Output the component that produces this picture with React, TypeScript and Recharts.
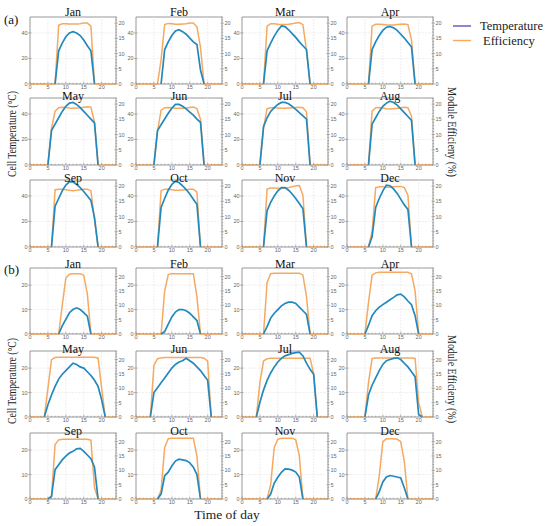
import React from "react";
import { LineChart, Line, XAxis, YAxis, ReferenceLine, ReferenceArea } from "recharts";

const n = null;

const hours = [0, 1, 2, 3, 4, 5, 6, 7, 8, 9, 10, 11, 12, 13, 14, 15, 16, 17, 18, 19, 20, 21, 22, 23, 24];
const months = ["Jan", "Feb", "Mar", "Apr", "May", "Jun", "Jul", "Aug", "Sep", "Oct", "Nov", "Dec"];

// (a) cell temperature, hourly 0..24
const tempA = [
  [n, n, n, n, n, n, n, 0, 26, 32, 37, 40, 41, 40, 38, 34.5, 30, 26, 0, n, n, n, n, n, n],
  [n, n, n, n, n, n, n, 0, 27, 33, 38, 41.5, 42.5, 41, 39, 36, 33, 31, 11, 0, n, n, n, n, n],
  [n, n, n, n, n, n, 0, 26, 32, 37.5, 42, 45.5, 45, 42.5, 39.5, 36.5, 33, 30, 27, 0, n, n, n, n, n],
  [n, n, n, n, n, n, 0, 27, 33, 38, 42, 44.5, 45, 44, 42, 39, 36, 32.5, 29, 0, n, n, n, n, n],
  [n, n, n, n, n, 0, 27, 32, 37, 42, 46, 48.5, 49, 47.5, 45, 42, 39, 36, 33, 0, n, n, n, n, n],
  [n, n, n, n, n, 0, 27, 31.5, 36, 40.5, 44.5, 47.5, 47.5, 46, 44, 41.5, 39, 36, 33.5, 0, n, n, n, n, n],
  [n, n, n, n, n, 0, 30, 37, 42, 45, 47.5, 49, 49, 48, 46, 43.5, 41, 38.5, 36, 0, n, n, n, n, n],
  [n, n, n, n, n, n, 0, 32, 37, 42, 46, 48.5, 50, 49, 47, 44, 41, 38, 35, 0, n, n, n, n, n],
  [n, n, n, n, n, n, 0, 32, 38, 44, 48.5, 51, 51, 49, 46.5, 43.5, 40, 36.5, 23, 0, n, n, n, n, n],
  [n, n, n, n, n, n, 0, 31, 38, 44.5, 49, 51.5, 50.5, 48, 45, 41.5, 37.5, 33.5, 0, n, n, n, n, n, n],
  [n, n, n, n, n, n, 0, 28.5, 35, 40, 44, 46.5, 46.5, 44.5, 41.5, 38, 34, 30, 0, n, n, n, n, n, n],
  [n, n, n, n, n, n, 0, 8, 31, 38, 44, 48.5, 48, 45.5, 42, 37.5, 33, 29.5, 0, n, n, n, n, n, n],
];

// (a) module efficiency
const effA = [
  [0, 0, 0, 0, 0, 0, 0, 0, 19.3, 19.8, 19.8, 19.7, 19.7, 19.7, 19.8, 20, 20, 19, 0, 0, 0, 0, 0, 0, 0],
  [0, 0, 0, 0, 0, 0, 0, 8, 19.5, 19.9, 19.8, 19.6, 19.6, 19.7, 19.8, 20, 20, 18.8, 12, 0, 0, 0, 0, 0, 0],
  [0, 0, 0, 0, 0, 0, 0, 19, 19.8, 19.8, 19.6, 19.5, 19.5, 19.6, 19.8, 20, 20.2, 19.5, 11, 0, 0, 0, 0, 0, 0],
  [0, 0, 0, 0, 0, 0, 0, 19, 19.6, 19.6, 19.5, 19.4, 19.4, 19.4, 19.5, 19.6, 19.7, 19.5, 14.5, 0, 0, 0, 0, 0, 0],
  [0, 0, 0, 0, 0, 0, 12, 17.7, 18.8, 19, 18.9, 18.7, 18.6, 18.7, 18.8, 19, 19.1, 19, 14, 0, 0, 0, 0, 0, 0],
  [0, 0, 0, 0, 0, 0, 11, 18, 18.8, 18.9, 18.8, 18.6, 18.6, 18.6, 18.7, 18.9, 19, 18.5, 15, 0, 0, 0, 0, 0, 0],
  [0, 0, 0, 0, 0, 0, 12, 18.5, 18.8, 18.8, 18.7, 18.6, 18.6, 18.7, 18.8, 18.9, 19, 18.8, 17.5, 0, 0, 0, 0, 0, 0],
  [0, 0, 0, 0, 0, 0, 0, 17.7, 18.8, 18.9, 18.7, 18.5, 18.4, 18.5, 18.6, 18.8, 19, 18.8, 16, 0, 0, 0, 0, 0, 0],
  [0, 0, 0, 0, 0, 0, 0, 18.8, 19, 19, 18.8, 18.6, 18.5, 18.6, 18.8, 19, 19, 18.5, 9, 0, 0, 0, 0, 0, 0],
  [0, 0, 0, 0, 0, 0, 0, 18.5, 19, 19, 18.8, 18.6, 18.6, 18.7, 18.8, 19, 19, 18, 0, 0, 0, 0, 0, 0, 0],
  [0, 0, 0, 0, 0, 0, 0, 19, 19.4, 19.4, 19.3, 19.2, 19.3, 19.5, 19.8, 20.1, 20.2, 17, 0, 0, 0, 0, 0, 0, 0],
  [0, 0, 0, 0, 0, 0, 0, 5, 19.5, 19.8, 19.8, 19.6, 19.6, 19.8, 19.9, 19.9, 19.5, 17, 0, 0, 0, 0, 0, 0, 0],
];

// (b) cell temperature
const tempB = [
  [n, n, n, n, n, n, n, n, 0, 3.3, 6, 8.7, 10, 10.7, 10, 8.7, 7.3, 0, n, n, n, n, n, n, n],
  [n, n, n, n, n, n, n, 0, 1, 4, 7, 9, 10, 10, 9.5, 8.5, 7, 5.5, 0, n, n, n, n, n, n],
  [n, n, n, n, n, n, 0, 3, 6.5, 8.5, 10, 11.5, 12.5, 13, 13, 12.5, 11, 9.5, 8, 0, n, n, n, n, n],
  [n, n, n, n, n, 0, 3.5, 7.5, 9.5, 11, 12, 13, 14, 15, 16, 16.3, 15.2, 13.5, 12, 7.5, 0, n, n, n, n],
  [n, n, n, n, 0, 5, 9, 12.5, 15.5, 17.5, 19, 20.5, 22, 21.5, 20.5, 20, 18.5, 17, 15, 12.5, 7, 0, n, n, n],
  [n, n, n, n, 0, 10, 12, 14, 16, 18, 20, 21.5, 22.5, 23, 24, 23, 22, 20.5, 19, 17, 15, 0, n, n, n],
  [n, n, n, n, 0, 6, 11, 15, 18, 20.5, 22.5, 24, 25, 25.5, 26, 26.3, 26.5, 25, 22, 19.5, 17.5, 0, n, n, n],
  [n, n, n, n, n, 0, 9, 13, 16, 19, 21.5, 23, 23.5, 24, 24.2, 23.5, 22, 20.5, 18.5, 16.5, 1, 0, n, n, n],
  [n, n, n, n, n, 0, 1, 12, 14, 16, 17.5, 18.8, 19.5, 20.5, 20.7, 19.5, 18, 16.5, 13, 0, n, n, n, n, n],
  [n, n, n, n, n, n, 0, 2, 9.5, 11, 13.5, 15.5, 16.3, 16, 15.7, 14.8, 13, 10, 0, n, n, n, n, n, n],
  [n, n, n, n, n, n, n, 0, 2, 6.5, 8.9, 10.9, 12.3, 12.2, 11.8, 11, 9, 0, n, n, n, n, n, n, n],
  [n, n, n, n, n, n, n, n, 0, 3, 7, 9, 9.6, 9.3, 9, 8.6, 4.5, 0, n, n, n, n, n, n, n],
];

// (b) module efficiency
const effB = [
  [0, 0, 0, 0, 0, 0, 0, 0, 0, 10, 19.5, 20.8, 21, 21, 21, 20.5, 14, 0, 0, 0, 0, 0, 0, 0, 0],
  [0, 0, 0, 0, 0, 0, 0, 0, 15, 20.7, 21, 21, 21, 21, 21, 21, 21, 13, 0, 0, 0, 0, 0, 0, 0],
  [0, 0, 0, 0, 0, 0, 0, 18, 21, 21.2, 21.2, 21.2, 21.2, 21.2, 21.2, 21.2, 21.2, 20.5, 13, 0, 0, 0, 0, 0, 0],
  [0, 0, 0, 0, 0, 0, 11, 20.5, 21.3, 21.5, 21.5, 21.5, 21.5, 21.5, 21.5, 21.5, 21.5, 21.5, 21, 15, 0, 0, 0, 0, 0],
  [0, 0, 0, 0, 0, 10, 20, 20.7, 20.8, 20.8, 20.8, 20.8, 20.8, 20.8, 20.8, 20.8, 20.8, 20.8, 20.8, 20.5, 10, 0, 0, 0, 0],
  [0, 0, 0, 0, 0, 18, 20.3, 20.6, 20.7, 20.7, 20.7, 20.7, 20.7, 20.7, 20.7, 20.7, 20.7, 20.7, 20.7, 20.5, 19.5, 0, 0, 0, 0],
  [0, 0, 0, 0, 0, 12, 19.5, 20.3, 20.5, 20.5, 20.5, 20.5, 20.5, 20.5, 20.5, 20.5, 20.5, 20.5, 20.5, 20.5, 15, 0, 0, 0, 0],
  [0, 0, 0, 0, 0, 0, 12, 20.4, 20.6, 20.6, 20.6, 20.6, 20.6, 20.6, 20.6, 20.6, 20.6, 20.6, 20.6, 20.4, 5, 0, 0, 0, 0],
  [0, 0, 0, 0, 0, 0, 1, 19, 20.6, 20.8, 20.8, 20.8, 20.8, 20.8, 20.8, 20.8, 20.8, 20.5, 4, 0, 0, 0, 0, 0, 0],
  [0, 0, 0, 0, 0, 0, 0, 3, 18, 21, 21.2, 21.2, 21.2, 21.2, 21.2, 21.2, 21.2, 15, 0, 0, 0, 0, 0, 0, 0],
  [0, 0, 0, 0, 0, 0, 0, 0, 5, 18, 20.8, 21.2, 21.2, 21.2, 21.2, 20.6, 15, 0, 0, 0, 0, 0, 0, 0, 0],
  [0, 0, 0, 0, 0, 0, 0, 0, 0, 8, 20, 21, 21, 21, 20.8, 20, 13, 0, 0, 0, 0, 0, 0, 0, 0],
];

const tTicksA = [0, 20, 40];
const tTicksB = [0, 10, 20];
const effTicksA = [0, 1, 2, 3, 4, 5, 6, 7, 8, 9, 10, 11, 12, 13, 14, 15, 16, 17, 18, 19, 20, 21, 22];
const effTicksB = [0, 1, 2, 3, 4, 5, 6, 7, 8, 9, 10, 11, 12, 13, 14, 15, 16, 17, 18, 19, 20, 21, 22, 23];
const gridHours = [5, 10, 15, 20];

const BLUE = "#2389bd";
const ORANGE = "#f5a961";
const SERIF = "'Liberation Serif', 'Times New Roman', serif";
const SANS = "'Liberation Sans', Arial, sans-serif";

// layout of the 4x3 grids (plot-area corners)
const COLS = [30, 136, 242, 347];
const ROWS_A = [17, 98, 180];
const ROWS_B = [268, 351, 433];
const PW = 86;
const ML = 22;
const MR = 22;
const MT = 3;
const MB = 10;

const xTick = (p: any) => {
  const v = p.payload.value;
  const major = v % 5 === 0 && v < 24;
  return (
    <g>
      <line x1={p.x} x2={p.x} y1={p.y} y2={p.y - (major ? 2.5 : 1.3)} stroke="#888" strokeWidth={0.6} />
      {major && (
        <text x={p.x} y={p.y + 5} textAnchor="middle" fontSize={5.5} fontFamily={SANS} fill="#666">
          {v}
        </text>
      )}
    </g>
  );
};

const leftTick = (p: any) => (
  <g>
    <line x1={p.x - 2} x2={p.x + 1.5} y1={p.y} y2={p.y} stroke="#888" strokeWidth={0.6} />
    <text x={p.x - 2.5} y={p.y + 2} textAnchor="end" fontSize={5.5} fontFamily={SANS} fill="#666">
      {p.payload.value}
    </text>
  </g>
);

const rightTick = (p: any) => {
  const v = p.payload.value;
  const major = v % 5 === 0;
  return (
    <g>
      <line x1={p.x - (major ? 1.5 : 0.5)} x2={p.x + (major ? 2 : 1.2)} y1={p.y} y2={p.y} stroke="#888" strokeWidth={0.6} />
      {major && (
        <text x={p.x + 2.5} y={p.y + 2} textAnchor="start" fontSize={5.5} fontFamily={SANS} fill="#666">
          {v}
        </text>
      )}
    </g>
  );
};

type PanelProps = {
  temp: (number | null)[];
  eff: number[];
  x: number;
  y: number;
  h: number;
  tMax: number;
  tTicks: number[];
  eMax: number;
  eTicks: number[];
};

function Panel({ temp, eff, x, y, h, tMax, tTicks, eMax, eTicks }: PanelProps) {
  const data = hours.map((hr, i) => ({ hr, t: temp[i], e: eff[i] }));
  return (
    <div style={{ position: "absolute", left: x - ML, top: y - MT }}>
      <LineChart width={ML + PW + MR} height={MT + h + MB} data={data} margin={{ top: MT, right: 0, bottom: 0, left: 0 }}>
        <XAxis
          dataKey="hr"
          type="number"
          domain={[0, 24]}
          ticks={hours}
          interval={0}
          tick={xTick}
          tickLine={false}
          axisLine={false}
          tickSize={0}
          tickMargin={0}
          height={MB}
        />
        <YAxis
          yAxisId="t"
          domain={[0, tMax]}
          ticks={tTicks}
          interval={0}
          tick={leftTick}
          tickLine={false}
          axisLine={false}
          tickSize={0}
          tickMargin={0}
          width={ML}
        />
        <YAxis
          yAxisId="e"
          orientation="right"
          domain={[0, eMax]}
          ticks={eTicks}
          interval={0}
          tick={rightTick}
          tickLine={false}
          axisLine={false}
          tickSize={0}
          tickMargin={0}
          width={MR}
        />
        {gridHours.map((g) => (
          <ReferenceLine key={"v" + g} yAxisId="t" x={g} stroke="#e4e4e4" strokeWidth={0.6} strokeDasharray="2 1" />
        ))}
        {tTicks.slice(1).map((g) => (
          <ReferenceLine key={"h" + g} yAxisId="t" y={g} stroke="#e4e4e4" strokeWidth={0.6} strokeDasharray="2 1" />
        ))}
        <ReferenceArea yAxisId="t" x1={0} x2={24} y1={0} y2={tMax} fill="none" fillOpacity={0} stroke="#8c8c8c" strokeWidth={0.9} />
        <Line yAxisId="e" dataKey="e" type="linear" stroke={ORANGE} strokeWidth={1.5} dot={false} isAnimationActive={false} />
        <Line yAxisId="t" dataKey="t" type="linear" stroke={BLUE} strokeWidth={1.7} dot={false} isAnimationActive={false} />
      </LineChart>
    </div>
  );
}

export default function App() {
  const panels: React.ReactNode[] = [];
  const titles: React.ReactNode[] = [];
  months.forEach((m, i) => {
    const row = Math.floor(i / 4);
    const cx = COLS[i % 4];
    const ya = ROWS_A[row];
    const yb = ROWS_B[row];
    panels.push(
      <Panel key={"a" + m} temp={tempA[i]} eff={effA[i]} x={cx} y={ya} h={67} tMax={52.5} tTicks={tTicksA} eMax={22} eTicks={effTicksA} />,
      <Panel key={"b" + m} temp={tempB[i]} eff={effB[i]} x={cx} y={yb} h={66} tMax={27} tTicks={tTicksB} eMax={23} eTicks={effTicksB} />
    );
    titles.push(
      <text key={"ta" + m} x={cx + PW / 2} y={ya + (row === 0 ? -1.5 : 1.5)} textAnchor="middle" fontSize={12} fontFamily={SERIF} fill="#111">
        {m}
      </text>,
      <text key={"tb" + m} x={cx + PW / 2} y={yb + (row === 0 ? -0.5 : 1.5)} textAnchor="middle" fontSize={12} fontFamily={SERIF} fill="#111">
        {m}
      </text>
    );
  });

  return (
    <div style={{ position: "absolute", left: 0, top: 0, width: 550, height: 526, background: "#fff", overflow: "hidden" }}>
      {panels}
      <svg width={550} height={526} style={{ position: "absolute", left: 0, top: 0, pointerEvents: "none" }}>
        {titles}
        <text x={4} y={24} fontSize={13} fontFamily={SERIF} fill="#111">(a)</text>
        <text x={4} y={274} fontSize={13} fontFamily={SERIF} fill="#111">(b)</text>
        <text transform="translate(16,134) rotate(-90)" textAnchor="middle" fontSize={13} fontFamily={SERIF} fill="#222" textLength={86} lengthAdjust="spacingAndGlyphs">
          Cell Temperature (°C)
        </text>
        <text transform="translate(16,381) rotate(-90)" textAnchor="middle" fontSize={13} fontFamily={SERIF} fill="#222" textLength={86} lengthAdjust="spacingAndGlyphs">
          Cell Temperature (°C)
        </text>
        <text transform="translate(448,132) rotate(90)" textAnchor="middle" fontSize={13} fontFamily={SERIF} fill="#222" textLength={90} lengthAdjust="spacingAndGlyphs">
          Module Efficieny (%)
        </text>
        <text transform="translate(448,379) rotate(90)" textAnchor="middle" fontSize={13} fontFamily={SERIF} fill="#222" textLength={88} lengthAdjust="spacingAndGlyphs">
          Module Efficieny (%)
        </text>
        <text x={227} y={519} textAnchor="middle" fontSize={13.5} fontFamily={SERIF} fill="#222">
          Time of day
        </text>
        <line x1={453} x2={471} y1={26} y2={26} stroke="#5a55b8" strokeWidth={1.4} />
        <text x={480} y={30} fontSize={12.5} fontFamily={SERIF} fill="#222">Temperature</text>
        <line x1={453} x2={471} y1={40.5} y2={40.5} stroke={ORANGE} strokeWidth={1.4} />
        <text x={483} y={44.5} fontSize={12.5} fontFamily={SERIF} fill="#222">Efficiency</text>
      </svg>
    </div>
  );
}
